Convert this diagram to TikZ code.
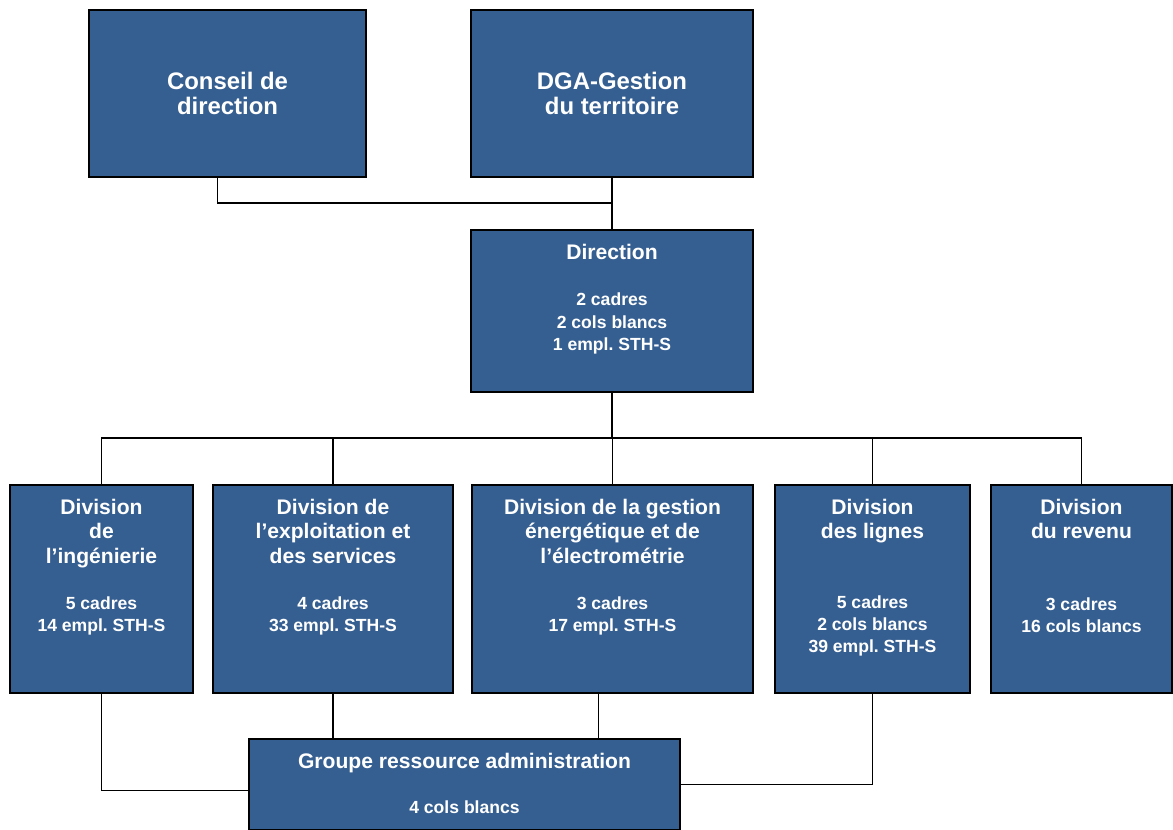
\documentclass[tikz,border=0pt]{standalone}
\usepackage{fontspec}
\setmainfont{Liberation Sans}
\usepackage{xcolor}
\usetikzlibrary{positioning}
\frenchspacing

\definecolor{orgblue}{RGB}{54,95,145}
\newlength{\pxu}
\setlength{\pxu}{0.025cm}
\newcommand{\titlefont}{\fontsize{15}{17.4}\selectfont\bfseries}
\newcommand{\bodyfont}{\fontsize{12.5}{15.9}\selectfont\bfseries}
\newcommand{\topbox}[3]{\parbox[c][#2\pxu][c]{#1\pxu}{\centering\fontsize{17}{18.4}\selectfont\bfseries #3\par}}
\newcommand{\unitbox}[5]{\parbox[c][#2\pxu][t]{#1\pxu}{\centering\vspace*{14\pxu}\titlefont #3\par\vspace{#4\pxu}\bodyfont #5\par}}

\begin{document}
\begin{tikzpicture}[x=0.025cm, y=-0.025cm, node distance=20\pxu]
        \tikzset{orgbox/.style={draw=black, line width=1.2pt, fill=orgblue, text=white, inner sep=0pt, outer sep=0pt}}
        \tikzset{link/.style={line width=0.9pt}}
        \useasboundingbox (0,0) rectangle (1173,830);

        \node[orgbox, anchor=north west] (conseil) at (89,10) {\topbox{277}{167}{Conseil de\\direction}};
        \node[orgbox, right=105\pxu of conseil] (dga) {\topbox{282}{167}{DGA-Gestion\\du territoire}};
        \node[orgbox, below=53\pxu of dga] (dir) {\unitbox{282}{162}{Direction}{24}{2 cadres\\2 cols blancs\\1 empl. STH-S}};

        % divisions
        \node[orgbox, anchor=north west] (ing) at (10,485) {\unitbox{183}{208}{Division\\de\\l’ingénierie}{24}{5 cadres\\14 empl. STH-S}};
        \node[orgbox, right=20\pxu of ing] (expl) {\unitbox{240}{208}{Division de\\l’exploitation et\\des services}{24}{4 cadres\\33 empl. STH-S}};
        \node[orgbox, right=19\pxu of expl] (gest) {\unitbox{281}{208}{Division de la gestion\\énergétique et de\\l’électrométrie}{24}{3 cadres\\17 empl. STH-S}};
        \node[orgbox, right=22\pxu of gest] (lignes) {\unitbox{195}{208}{Division\\des lignes}{47}{5 cadres\\2 cols blancs\\39 empl. STH-S}};
        \node[orgbox, right=21\pxu of lignes] (revenu) {\unitbox{181}{208}{Division\\du revenu}{49}{3 cadres\\16 cols blancs}};

        \node[orgbox, anchor=north west] (grp) at (249,739) {\unitbox{431}{91}{Groupe ressource administration}{23}{4 cols blancs}};

        \draw[link] ([xshift=-10\pxu]conseil.south) |- ([yshift=27\pxu]dir.north) -- (dir.north);
        \draw[link] (dga.south) -- (dir.north);

        \draw[link] (dir.south) -- ++(0,46) coordinate (bus);
        \foreach \d in {ing,expl,gest,lignes,revenu}
            \draw[link] (bus) -| (\d.north);

        \draw[link] (ing.south) |- ([yshift=-6\pxu]grp.west);
        \draw[link] (expl.south) -- (expl.south |- grp.north);
        \draw[link] ([xshift=-14\pxu]gest.south) -- ([xshift=-14\pxu]gest.south |- grp.north);
        \draw[link] (lignes.south) |- (grp.east);

    \end{tikzpicture}
\end{document}
